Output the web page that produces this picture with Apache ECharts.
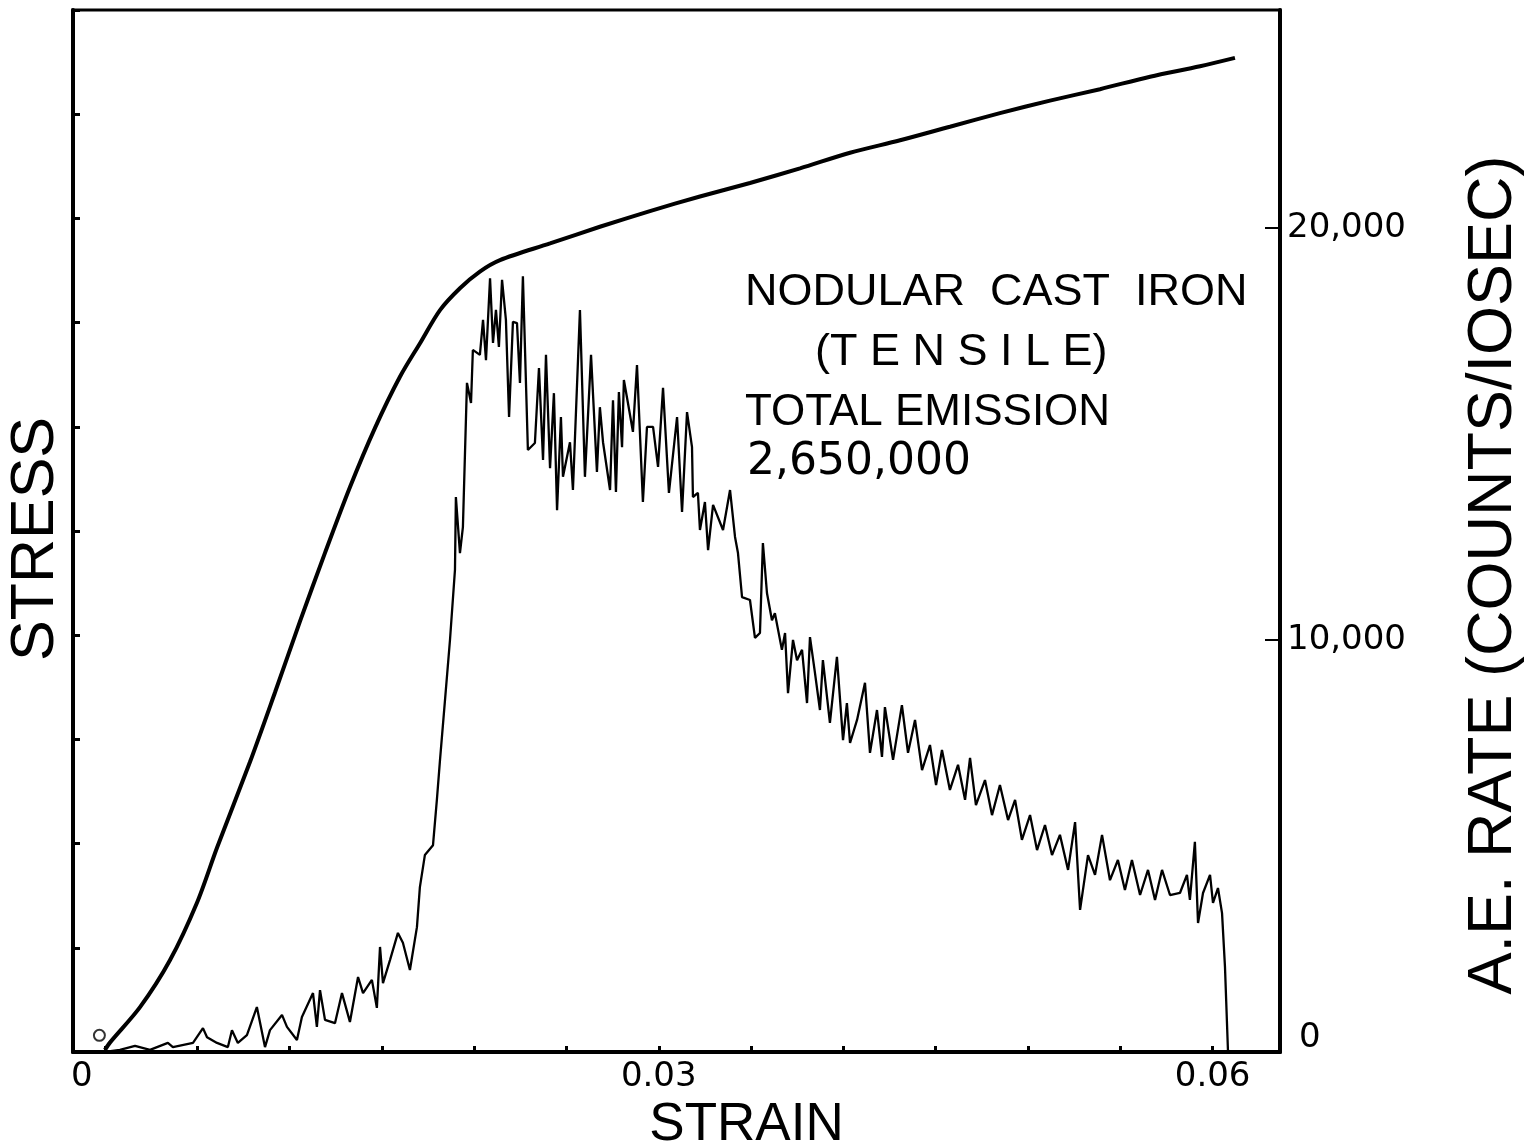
<!DOCTYPE html>
<html>
<head>
<meta charset="utf-8">
<title>Nodular cast iron - AE rate</title>
<script src="https://cdn.jsdelivr.net/npm/echarts@6.0.0/dist/echarts.min.js"></script>
<style>
  html, body { margin: 0; padding: 0; background: #fff; }
  #chart { width: 1538px; height: 1146px; }
</style>
</head>
<body>
<div id="chart"></div>
<script>
// stress-strain curve (stress in left axis divisions, no units on the original)
const stressStrain = [0, 0.00027, 0.0019, 0.00352, 0.00498, 0.00607, 0.00785, 0.00921, 0.01056, 0.01192,
  0.01327, 0.01463, 0.01598, 0.01706, 0.01815, 0.01923, 0.02031, 0.0214, 0.02411, 0.02681,
  0.02952, 0.03223, 0.03494, 0.03765, 0.04036, 0.04307, 0.04577, 0.04848, 0.05119, 0.0539,
  0.05661, 0.05932, 0.06121];
const stressVals = [0.02, 0.09, 0.43, 0.88, 1.43, 1.96, 2.78, 3.45, 4.13, 4.79,
  5.42, 5.99, 6.48, 6.8, 7.12, 7.33, 7.49, 7.6, 7.76, 7.92,
  8.07, 8.21, 8.34, 8.48, 8.63, 8.75, 8.88, 9.01, 9.13, 9.24,
  9.36, 9.46, 9.54];

// acoustic emission rate, counts / 10 sec
const aeStrain = [0, 0.00081, 0.00163, 0.00244, 0.00341, 0.00368, 0.00477, 0.00531, 0.00553, 0.00607,
  0.00666, 0.00688, 0.0072, 0.00769, 0.00823, 0.00867, 0.00894, 0.00959, 0.00986, 0.0104,
  0.01067, 0.01127, 0.01148, 0.01165, 0.01192, 0.01246, 0.01284, 0.01327, 0.01371, 0.01398,
  0.01446, 0.01473, 0.0149, 0.01506, 0.01544, 0.01587, 0.01614, 0.01652, 0.0169, 0.01706,
  0.01733, 0.01777, 0.01798, 0.01815, 0.01842, 0.01869, 0.01896, 0.01901, 0.01923, 0.01939,
  0.01961, 0.01983, 0.01993, 0.02031, 0.02048, 0.02064, 0.02086, 0.02102, 0.02118, 0.02134,
  0.02151, 0.02172, 0.02189, 0.0221, 0.02232, 0.02248, 0.02264, 0.02291, 0.02329, 0.02351,
  0.02373, 0.02389, 0.02411, 0.02432, 0.02449, 0.0247, 0.02481, 0.02519, 0.02535, 0.02573,
  0.026, 0.02633, 0.02665, 0.02681, 0.02698, 0.02736, 0.02752, 0.02768, 0.02784, 0.02801,
  0.02811, 0.02833, 0.0286, 0.02882, 0.02914, 0.02936, 0.02969, 0.02996, 0.03023, 0.03055,
  0.03099, 0.03126, 0.03153, 0.0318, 0.03185, 0.03212, 0.03223, 0.0325, 0.03267, 0.03294,
  0.03348, 0.03386, 0.03413, 0.03429, 0.03451, 0.03494, 0.03521, 0.03548, 0.03564, 0.03586,
  0.03613, 0.03629, 0.03667, 0.03684, 0.037, 0.03727, 0.03749, 0.03776, 0.03803, 0.03819,
  0.03846, 0.03873, 0.03889, 0.03927, 0.03965, 0.03998, 0.04019, 0.04036, 0.04074, 0.04117,
  0.04144, 0.04182, 0.04209, 0.04225, 0.04269, 0.04317, 0.0435, 0.04388, 0.04426, 0.04469,
  0.04502, 0.04534, 0.04577, 0.04621, 0.04659, 0.04686, 0.04718, 0.04767, 0.04805, 0.04848,
  0.04892, 0.0493, 0.04967, 0.05011, 0.05049, 0.05092, 0.0513, 0.05173, 0.05217, 0.05255,
  0.05282, 0.05325, 0.05363, 0.05401, 0.05444, 0.05487, 0.05525, 0.05563, 0.05607, 0.0565,
  0.05688, 0.05726, 0.05769, 0.05823, 0.05861, 0.05877, 0.05904, 0.05921, 0.05948, 0.05986,
  0.06002, 0.06029, 0.06051, 0.06067, 0.06083, 0.06089];
const aeRate = [0, 50, 150, 50, 220, 120, 220, 580, 360, 220,
  120, 530, 220, 410, 1090, 120, 530, 900, 610, 290,
  850, 1430, 610, 1500, 780, 700, 1430, 730, 1820, 1430,
  1750, 1070, 2550, 1670, 2230, 2890, 2650, 1990, 3030, 4000,
  4780, 5020, 6120, 7090, 8540, 10000, 11700, 13470, 12110, 12740,
  16240, 15750, 17040, 16920, 17770, 16790, 18780, 17210, 18010, 17110,
  18740, 17770, 15410, 17720, 17690, 16240, 18830, 14610, 14780, 16600,
  14370, 16920, 14170, 15990, 13150, 15410, 13960, 14800, 13640, 18010,
  13960, 16920, 14080, 15650, 14800, 13640, 15820, 13590, 16020, 14680,
  16310, 15750, 15050, 16670, 13350, 15170, 15170, 14200, 16120, 13570,
  15410, 13110, 15530, 14680, 13470, 13570, 12670, 13350, 12180, 13280,
  12670, 13640, 12500, 12110, 11040, 10970, 10050, 10170, 12350, 11140,
  10480, 10650, 9760, 10170, 8710, 10000, 9510, 9760, 8470, 10070,
  9200, 8300, 9510, 7990, 9590, 7570, 8470, 7500, 8060, 8960,
  7260, 8300, 7160, 8370, 7090, 8420, 7260, 8060, 6840, 7450,
  6480, 7330, 6360, 6970, 6120, 7140, 5990, 6600, 5750, 6480,
  5630, 6120, 5150, 5750, 4900, 5510, 4780, 5270, 4420, 5580,
  3450, 4780, 4300, 5270, 4170, 4660, 3930, 4660, 3810, 4420,
  3690, 4420, 3810, 3860, 4300, 3690, 5100, 3130, 3860, 4300,
  3620, 3980, 3370, 2060, 50, 0];

// small open circle drawn near the origin
const originMark = [[-0.0003, 0.16]];

const strainTicks = [0, 0.005, 0.01, 0.015, 0.02, 0.025, 0.03, 0.035, 0.04, 0.045, 0.05, 0.055, 0.06];
const strainLabels = [0, 0.03, 0.06];
const rateTicks = [10000, 20000];
const rateLabels = [0, 10000, 20000];

const noteLines = ['NODULAR  CAST  IRON', '(T E N S I L E)', 'TOTAL EMISSION', '2,650,000'];

const font = '"Liberation Sans", "DejaVu Sans", sans-serif';
const numFont = '"DejaVu Sans", sans-serif';

const chart = echarts.init(document.getElementById('chart'), null, { renderer: 'canvas' });

const option = {
  backgroundColor: '#fff',
  animation: false,
  grid: {
    left: 73,
    right: 258,
    top: 10,
    bottom: 94,
    show: true,
    borderColor: '#000',
    borderWidth: 3,
    outerBoundsMode: 'none',
  },
  xAxis: {
    type: 'value',
    min: -0.00173,
    max: 0.06365,
    splitLine: { show: false },
    axisLine: { onZero: false, lineStyle: { color: '#000', width: 4 } },
    axisTick: {
      customValues: strainTicks,
      inside: true,
      length: 6,
      lineStyle: { color: '#000', width: 3 },
    },
    axisLabel: {
      customValues: strainLabels,
      margin: 8,
      color: '#000',
      fontFamily: numFont,
      fontSize: 34,
      formatter: (v) => (v === 0 ? '{z|0}' : v.toFixed(2)),
      rich: { z: { fontFamily: numFont, fontSize: 34, color: '#000', padding: [0, 46, 0, 0] } },
    },
    name: 'STRAIN',
    nameLocation: 'middle',
    nameGap: 47,
    nameTextStyle: {
      color: '#000',
      fontFamily: font,
      fontSize: 53,
      verticalAlign: 'top',
      padding: [0, 0, 0, 140],
    },
  },
  yAxis: [
    {
      type: 'value',
      min: 0,
      max: 10,
      interval: 1,
      splitLine: { show: false },
      axisLine: { show: true, onZero: false, lineStyle: { color: '#000', width: 4 } },
      axisTick: { show: true, inside: true, length: 7, lineStyle: { color: '#000', width: 3 } },
      axisLabel: { show: false },
      name: 'STRESS',
      nameLocation: 'middle',
      nameRotate: 90,
      nameGap: 6,
      nameTextStyle: { color: '#000', fontFamily: font, fontSize: 61, padding: [0, 16, 0, 0] },
    },
    {
      type: 'value',
      position: 'right',
      min: 0,
      max: 25290,
      splitLine: { show: false },
      axisLine: { show: true, onZero: false, lineStyle: { color: '#000', width: 4 } },
      axisTick: {
        show: true,
        customValues: rateTicks,
        inside: true,
        length: 15,
        lineStyle: { color: '#000', width: 2 },
      },
      axisLabel: {
        customValues: rateLabels,
        margin: 7,
        color: '#000',
        fontFamily: numFont,
        fontSize: 34,
        formatter: (v) => (v === 0 ? '{z|0}' : v.toLocaleString('en-US')),
        rich: { z: { fontFamily: numFont, fontSize: 34, color: '#000', padding: [0, 0, 28, 12] } },
      },
      name: 'A.E. RATE (COUNTS/IOSEC)',
      nameLocation: 'middle',
      nameRotate: 90,
      nameGap: 245,
      nameTextStyle: { color: '#000', fontFamily: font, fontSize: 63, verticalAlign: 'bottom', padding: [0, 88, 0, 0] },
    },
  ],
  graphic: noteLines.map((t, i) => ({
    type: 'text',
    left: [745, 815, 745, 747][i],
    top: [270, 330, 391, 441][i],
    style: {
      text: t,
      fill: '#000',
      font: [45, 45, 44, 44][i] + 'px ' + (i === 3 ? numFont : font),
    },
  })),
  series: [
    {
      name: 'stress',
      type: 'line',
      yAxisIndex: 0,
      data: stressStrain.map((s, i) => [s, stressVals[i]]),
      showSymbol: false,
      smooth: 0.3,
      lineStyle: { color: '#000', width: 4 },
    },
    {
      name: 'ae rate',
      type: 'line',
      yAxisIndex: 1,
      data: aeStrain.map((s, i) => [s, aeRate[i]]),
      showSymbol: false,
      lineStyle: { color: '#000', width: 2.3 },
    },
    {
      name: 'origin mark',
      type: 'scatter',
      yAxisIndex: 0,
      data: originMark,
      symbol: 'emptyCircle',
      symbolSize: 11,
      z: 5,
      itemStyle: { color: '#000', borderColor: '#000', borderWidth: 2.5 },
    },
  ],
};

chart.setOption(option);
</script>
</body>
</html>
